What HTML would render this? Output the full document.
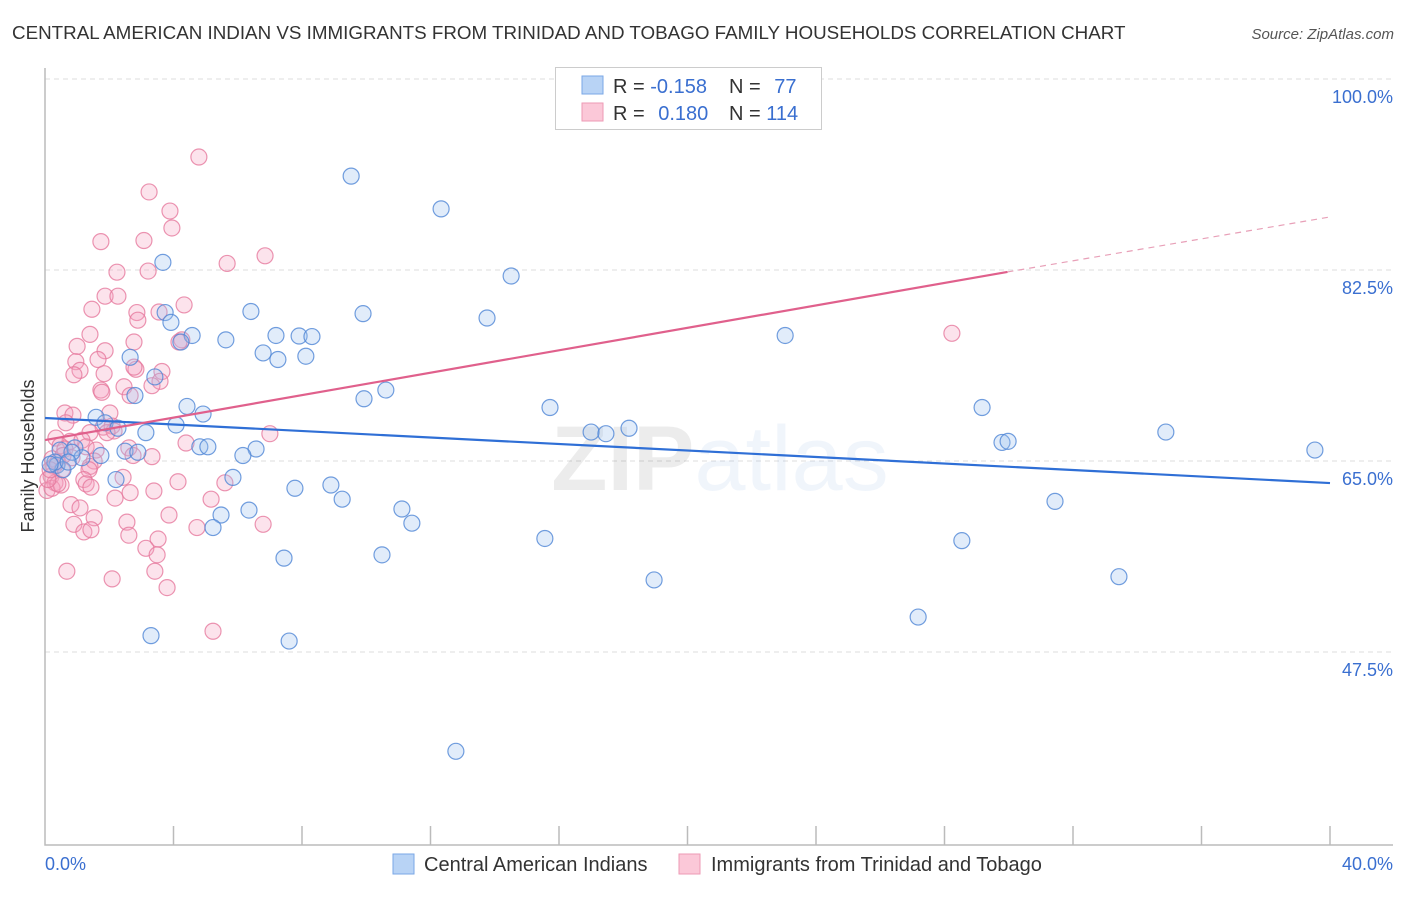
<!DOCTYPE html>
<html><head><meta charset="utf-8"><style>
body{margin:0;background:#fff;font-family:"Liberation Sans",sans-serif;}
svg text{font-family:"Liberation Sans",sans-serif;}
</style></head><body>
<svg id="chart" width="1406" height="892" xmlns="http://www.w3.org/2000/svg">
<text x="12" y="39" font-size="18.8" fill="#333">CENTRAL AMERICAN INDIAN VS IMMIGRANTS FROM TRINIDAD AND TOBAGO FAMILY HOUSEHOLDS CORRELATION CHART</text>
<text x="1394" y="39" font-size="15" fill="#555" font-style="italic" text-anchor="end">Source: ZipAtlas.com</text>
<g id="grid"></g>
<text x="720" y="490" font-size="92" text-anchor="middle" fill="#000" opacity="0.07" font-family="Liberation Serif,serif" font-weight="bold">ZIP<tspan fill="#3a7bd5" font-family="Liberation Sans,sans-serif" font-weight="normal">atlas</tspan></text>
<g id="axes"></g>
<g id="points"></g>
<g id="trends"></g>
<text transform="translate(34,456) rotate(-90)" font-size="18" fill="#333" text-anchor="middle">Family Households</text>
<g>
<rect x="555.5" y="67.5" width="266" height="62" fill="#fff" stroke="#ccc"/>
<rect x="582" y="76" width="21" height="18" fill="#b8d3f5" stroke="#7aa7e6"/>
<rect x="582" y="103" width="21" height="18" fill="#fbc8d8" stroke="#ee9ab5"/>
<text x="613" y="93" font-size="20" fill="#333">R = <tspan fill="#3a6fd0">-0.158</tspan></text>
<text x="729" y="93" font-size="20" fill="#333">N = <tspan fill="#3a6fd0" dx="8">77</tspan></text>
<text x="613" y="120" font-size="20" fill="#333">R = <tspan fill="#3a6fd0" dx="8">0.180</tspan></text>
<text x="729" y="120" font-size="20" fill="#333">N = <tspan fill="#3a6fd0">114</tspan></text>
</g>
<g>
<rect x="393" y="854" width="21" height="20" fill="#b8d3f5" stroke="#7aa7e6"/>
<text x="424" y="871" font-size="20" fill="#333">Central American Indians</text>
<rect x="679" y="854" width="21" height="20" fill="#fbc8d8" stroke="#ee9ab5"/>
<text x="711" y="871" font-size="20" fill="#333">Immigrants from Trinidad and Tobago</text>
</g>
</svg>
<script>
const yTicks=[100,82.5,65,47.5];
const yTickLabels=["100.0%","82.5%","65.0%","47.5%"];
const xTicks=[0,4,8,12,16,20,24,28,32,36,40];
const blueX=[9.53,12.33,3.67,14.51,6.41,9.90,13.76,3.74,3.92,4.58,5.63,7.19,7.91,8.31,23.04,4.23,6.79,7.25,8.12,2.65,3.42,10.61,9.93,2.80,4.42,15.72,29.17,4.92,1.59,1.87,4.08,3.14,2.27,17.0,17.46,18.18,34.89,29.79,29.98,4.82,5.07,6.57,2.49,2.89,6.16,1.74,0.47,0.93,39.53,1.15,0.37,0.56,0.31,2.21,5.85,7.78,8.90,9.25,31.44,6.35,5.48,11.11,11.42,5.23,15.56,28.54,10.49,7.44,33.43,18.96,27.18,3.30,7.60,12.79,0.84,0.16,0.72];
const blueY=[91.1,88.1,83.2,81.95,78.7,78.5,78.1,78.6,77.7,76.5,76.1,76.5,76.45,76.4,76.5,75.9,74.9,74.3,74.6,74.5,72.7,71.5,70.7,71.0,70.0,69.9,69.9,69.3,69.0,68.5,68.3,67.6,68.0,67.65,67.5,68.0,67.65,66.7,66.8,66.3,66.3,66.1,65.9,65.8,65.5,65.5,66.0,66.2,66.0,65.3,64.6,64.2,64.9,63.3,63.5,62.5,62.8,61.5,61.3,60.5,60.05,60.6,59.3,58.9,57.9,57.7,56.4,56.1,54.4,54.1,50.7,49.0,48.5,38.4,65.8,64.7,64.9];
const pinkX=[4.79,3.24,3.89,3.95,1.74,3.08,2.24,3.21,6.85,5.67,1.87,2.27,4.33,1.46,2.86,2.89,3.55,1.40,4.26,4.17,28.23,1.00,2.77,1.87,1.65,0.96,1.09,2.83,1.84,0.90,3.64,2.77,3.58,1.74,1.77,2.46,3.33,2.65,0.62,0.87,2.02,0.65,1.81,2.09,2.15,1.40,1.93,7.0,4.39,0.34,0.78,0.47,0.62,1.15,1.28,1.59,2.61,3.33,2.74,1.53,0.22,0.40,0.28,0.53,0.84,0.56,1.40,1.37,0.19,0.31,0.06,0.22,0.50,0.40,4.14,5.60,1.21,1.28,1.43,2.43,3.39,2.18,2.65,5.17,0.81,1.09,1.53,0.90,3.86,2.55,4.73,1.21,1.43,6.79,3.52,2.61,3.14,3.49,0.68,2.09,3.42,3.80,5.23,0.09,0.16];
const pinkY=[92.85,89.65,87.9,86.35,85.1,85.2,82.3,82.4,83.8,83.1,80.1,80.1,79.3,78.9,78.6,77.9,78.65,76.6,76.1,75.9,76.7,75.5,75.9,75.1,74.3,74.1,73.3,73.4,73.0,72.9,73.2,73.6,72.3,71.5,71.3,71.8,71.9,71.0,69.4,69.2,69.4,68.5,68.1,68.2,67.75,67.6,67.6,67.5,66.65,67.1,66.8,66.4,66.1,66.9,66.3,66.0,66.2,65.4,65.5,65.0,65.2,64.9,64.5,64.2,65.3,65.5,64.5,64.2,63.6,63.0,62.3,62.5,62.8,62.9,63.1,63.0,63.3,62.9,62.6,63.5,62.25,61.6,62.1,61.5,61.0,60.7,59.8,59.2,60.05,59.4,58.9,58.5,58.7,59.2,57.85,58.2,57.0,56.4,54.9,54.2,54.9,53.4,49.4,63.3,64.2];
const blueTrend=[[0,68.94],[40,62.98]];
const pinkTrendSolid=[[0,66.92],[29.96,82.32]];
const pinkTrendDash=[[29.96,82.32],[40,87.36]];

const NS="http://www.w3.org/2000/svg";
const X0=45,X1=1330,YTOP=79;
function sx(v){return X0+(X1-X0)*v/40;}
function sy(v){return YTOP+(100-v)*10.914;}
function mk(tag,attrs,parent){const e=document.createElementNS(NS,tag);for(const k in attrs)e.setAttribute(k,attrs[k]);parent.appendChild(e);return e;}
const grid=document.getElementById('grid'),axes=document.getElementById('axes'),pts=document.getElementById('points'),tr=document.getElementById('trends');
yTicks.forEach((t,i)=>{
  const l=mk('line',{x1:X0,x2:1393,y1:sy(t),y2:sy(t),stroke:'#ddd','stroke-dasharray':'5,4'},grid);
  
  
  const tx=mk('text',{x:1393,y:sy(t)+24,'font-size':18,fill:'#3a6fd0','text-anchor':'end'},axes);
  tx.textContent=yTickLabels[i];
  
  
});
const ax=mk('path',{d:`M${X0},68 V845 H1393`,fill:'none',stroke:'#bbb','stroke-width':1.5},axes);


xTicks.forEach((t,i)=>{
  if(i===0)return;
  const l=mk('line',{x1:sx(t),x2:sx(t),y1:826,y2:845,stroke:'#bbb','stroke-width':1.5},axes);
  
  
});
const xl0=mk('text',{x:45,y:870,'font-size':18,fill:'#3a6fd0'},axes);xl0.textContent='0.0%';


const xl1=mk('text',{x:1393,y:870,'font-size':18,fill:'#3a6fd0','text-anchor':'end'},axes);xl1.textContent='40.0%';


function dots(xs,ys,fill,stroke,name){
  xs.forEach((x,i)=>{
    const c=mk('circle',{cx:sx(x),cy:sy(ys[i]),r:8,fill:fill,'fill-opacity':0.3,stroke:stroke,'stroke-width':1.2,'stroke-opacity':0.8},pts);
    
    
  });
}
dots(pinkX,pinkY,'#f4a3bf','#e6799e','point-trinidad-tobago');
dots(blueX,blueY,'#9cc0ef','#4f86d6','point-central-american-indian');
function line(p,stroke,dash,name,w){
  const l=mk('line',{x1:sx(p[0][0]),y1:sy(p[0][1]),x2:sx(p[1][0]),y2:sy(p[1][1]),stroke:stroke,'stroke-width':w},tr);
  if(dash)l.setAttribute('stroke-dasharray',dash);
  
  
}
line(blueTrend,'#2f6fd6',null,'trend-line-blue',2.2);
line(pinkTrendSolid,'#e0608c',null,'trend-line-pink',2.2);
line(pinkTrendDash,'#e8a0b8','6,5','trend-line-pink-extension',1.2);
</script>
</body></html>
